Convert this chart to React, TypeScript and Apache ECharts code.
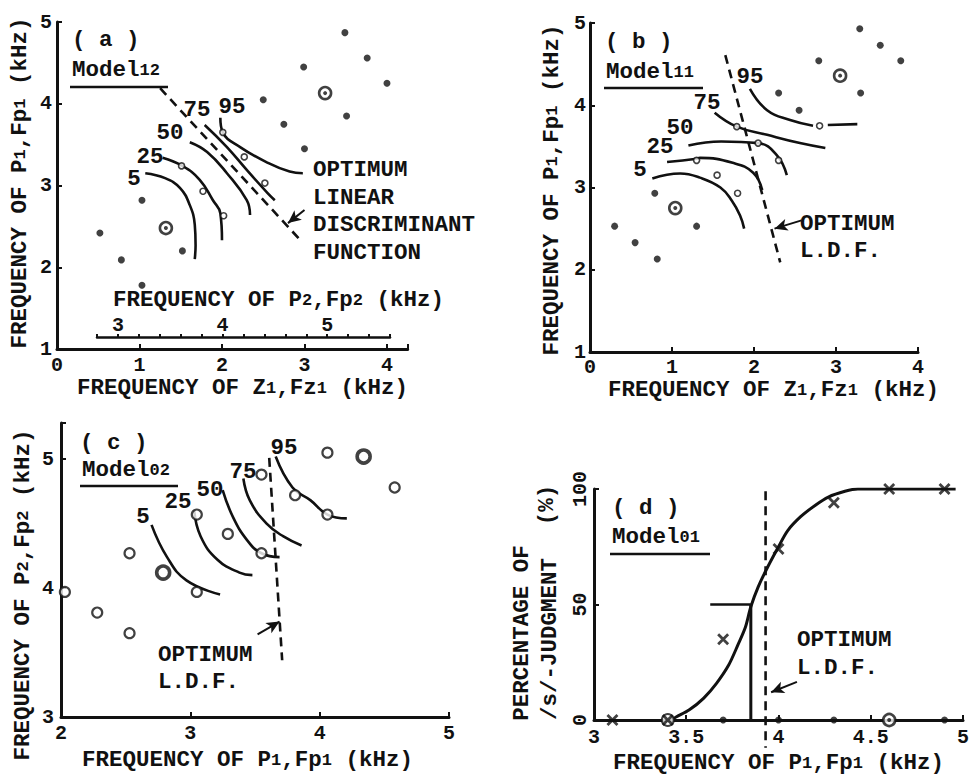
import React, { useEffect, useRef } from 'react';
import * as echarts from 'echarts';

const FONT = '"Liberation Mono", "DejaVu Sans Mono", monospace';
const INK = '#111';

// ---------- Panel (a) Model12 : Z1,Fz1 (x) vs P1,Fp1 (y) ----------
const aFilled = [[2.99, 4.45], [3.49, 4.87], [3.76, 4.56], [4.0, 4.25], [2.5, 4.05], [2.75, 3.75], [3.51, 3.85], [3.0, 3.45], [1.03, 2.82], [0.52, 2.42], [0.78, 2.09], [1.03, 1.78], [1.52, 2.2]];
const aDouble = [[3.25, 4.13], [1.32, 2.48]];
const aOpen = [[1.51, 3.24], [1.77, 2.93], [2.02, 2.63], [2.01, 3.65], [2.27, 3.35], [2.52, 3.03]];
const aCurve5 = [[1.07, 3.15], [1.31, 3.09], [1.49, 2.97], [1.61, 2.76], [1.67, 2.52], [1.68, 2.27], [1.67, 2.1]];
const aCurve25 = [[1.28, 3.34], [1.52, 3.24], [1.73, 3.07], [1.89, 2.82], [1.98, 2.66], [2.0, 2.33]];
const aCurve50 = [[1.61, 3.53], [1.82, 3.41], [2.06, 3.15], [2.3, 2.82], [2.34, 2.64]];
const aCurve75 = [[1.79, 3.74], [2.06, 3.47], [2.3, 3.19], [2.55, 2.91], [2.64, 2.82]];
const aCurve95 = [[1.98, 3.83], [2.01, 3.65], [2.22, 3.47], [2.55, 3.28], [2.82, 3.17], [2.98, 3.15]];
const aLdf = [[1.25, 4.19], [2.97, 2.31]];
const aArrow = [[3.0, 2.7], [2.8, 2.54]];

// ---------- Panel (b) Model11 ----------
const bFilled = [[0.3, 2.53], [0.55, 2.33], [0.82, 2.13], [1.3, 2.53], [0.79, 2.93], [3.29, 4.93], [3.54, 4.73], [3.79, 4.54], [2.79, 4.54], [3.3, 4.15], [2.3, 4.15], [2.55, 3.94]];
const bDouble = [[1.04, 2.75], [3.05, 4.36]];
const bOpen = [[2.8, 3.75], [1.79, 3.74], [2.05, 3.54], [2.3, 3.33], [1.55, 3.15], [1.3, 3.33], [1.8, 2.93]];
const bCurve5 = [[0.76, 3.11], [1.1, 3.17], [1.34, 3.12], [1.59, 3.0], [1.73, 2.84], [1.83, 2.66], [1.88, 2.5]];
const bCurve25 = [[0.94, 3.31], [1.3, 3.35], [1.34, 3.36], [1.74, 3.3], [1.99, 3.18], [2.1, 2.97]];
const bCurve50 = [[1.2, 3.51], [1.6, 3.56], [2.05, 3.54], [2.28, 3.39], [2.4, 3.15]];
const bCurve75 = [[1.52, 3.91], [1.79, 3.74], [2.16, 3.64], [2.56, 3.54], [2.87, 3.48]];
const bCurve95 = [[1.95, 4.2], [2.16, 3.94], [2.44, 3.82], [2.72, 3.75]];
const bCurve95Tail = [[2.9, 3.76], [3.26, 3.77]];
const bLdf = [[1.65, 4.61], [2.32, 2.09]];
const bArrow = [[2.58, 2.6], [2.25, 2.5]];

// ---------- Panel (c) Model02 : P1,Fp1 (x) vs P2,Fp2 (y) ----------
const cOpen = [[2.53, 4.27], [3.05, 3.97], [3.29, 4.42], [3.05, 4.57], [2.03, 3.97], [2.28, 3.81], [2.53, 3.65], [4.06, 5.05], [4.58, 4.78], [3.81, 4.72], [4.06, 4.57], [3.55, 4.27], [3.55, 4.88]];
const cBold = [[2.79, 4.12], [4.34, 5.02]];
const cCurve5 = [[2.7, 4.49], [2.82, 4.24], [2.97, 4.06], [3.23, 3.95]];
const cCurve25 = [[3.03, 4.6], [3.08, 4.4], [3.21, 4.22], [3.38, 4.12], [3.48, 4.1]];
const cCurve50 = [[3.25, 4.76], [3.33, 4.55], [3.44, 4.37], [3.55, 4.27], [3.69, 4.24]];
const cCurve75 = [[3.41, 4.85], [3.46, 4.68], [3.59, 4.5], [3.72, 4.4], [3.86, 4.33]];
const cCurve95 = [[3.66, 5.02], [3.79, 4.78], [3.93, 4.68], [4.06, 4.57], [4.21, 4.54]];
const cLdf = [[3.61, 5.01], [3.71, 3.44]];
const cArrow = [[3.52, 3.64], [3.69, 3.74]];

// ---------- Panel (d) Model01 : P1,Fp1 (x) vs % /s/ judgments ----------
const dCurve = [[3.42, 0], [3.445, 1.3], [3.515, 4.3], [3.595, 9.5], [3.665, 16], [3.73, 23.8], [3.78, 32.5], [3.82, 40], [3.85, 49], [3.89, 57.6], [3.94, 66], [4.0, 75], [4.05, 82], [4.12, 88], [4.2, 93], [4.27, 96.5], [4.36, 99], [4.43, 100], [4.96, 100]];
const dCrosses = [[3.1, 0], [3.4, 0], [3.7, 35], [4.0, 74], [4.3, 94], [4.6, 100], [4.9, 100]];
const dDots = [[3.7, 0], [4.0, 0], [4.3, 0], [4.9, 0]];
const dDouble = [[4.6, 0]];
const dOpen = [[3.4, 0]];
const dHalfV = [[3.85, 0], [3.85, 50]];
const dHalfH = [[3.63, 50], [3.85, 50]];
const dLdf = [[3.93, 99], [3.93, -12]];
const dArrow = [[4.1, 16.5], [3.96, 12]];

const intFmt = (v: number) => (Math.abs(v - Math.round(v)) < 1e-6 ? String(Math.round(v)) : '');
const tickLabel = { fontFamily: FONT, fontSize: 20, fontWeight: 'bold', color: INK };

function xAx(gridIndex: number, min: number, max: number, interval: number, extra: any = {}) {
  return {
    gridIndex, type: 'value', min, max, interval,
    axisLine: { onZero: false, lineStyle: { color: INK, width: 3 } },
    axisTick: { inside: true, length: 5, lineStyle: { color: INK, width: 2 } },
    splitLine: { show: false },
    axisLabel: { ...tickLabel, margin: 6, formatter: intFmt },
    ...extra,
  };
}
function yAx(gridIndex: number, min: number, max: number, interval: number, extra: any = {}) {
  return {
    gridIndex, type: 'value', min, max, interval,
    axisLine: { onZero: false, lineStyle: { color: INK, width: 3 } },
    axisTick: { inside: true, length: 5, lineStyle: { color: INK, width: 2 } },
    splitLine: { show: false },
    axisLabel: { ...tickLabel, margin: 5, formatter: intFmt },
    ...extra,
  };
}

const curve = (i: number, data: number[][], extra: any = {}) => ({
  type: 'line', xAxisIndex: i, yAxisIndex: i, data, symbol: 'none', smooth: 0.45, silent: true,
  lineStyle: { color: INK, width: 2.6 }, z: 3, ...extra,
});
const dashed = (i: number, data: number[][]) => ({
  type: 'line', xAxisIndex: i, yAxisIndex: i, data, symbol: 'none', silent: true, clip: false,
  lineStyle: { color: INK, width: 2.6, type: [9, 6] }, z: 3,
});
const arrow = (i: number, data: number[][]) => ({
  type: 'line', xAxisIndex: i, yAxisIndex: i, data: [], silent: true,
  markLine: {
    silent: true, symbol: ['none', 'arrow'], symbolSize: [9, 13], label: { show: false },
    lineStyle: { color: INK, width: 2, type: 'solid' }, animation: false,
    data: [[{ coord: data[0] }, { coord: data[1] }]],
  },
});
const dots = (i: number, data: number[][], size = 7) => ({
  type: 'scatter', xAxisIndex: i, yAxisIndex: i, data, symbol: 'circle', symbolSize: size, silent: true,
  itemStyle: { color: INK }, z: 5,
});
const rings = (i: number, data: number[][], size: number, bw: number) => ({
  type: 'scatter', xAxisIndex: i, yAxisIndex: i, data, symbol: 'circle', symbolSize: size, silent: true,
  itemStyle: { color: '#fff', borderColor: INK, borderWidth: bw }, z: 5,
});
const crosses = (i: number, data: number[][]) => ({
  type: 'scatter', xAxisIndex: i, yAxisIndex: i, data, symbol: 'path://M0 0L10 10M10 0L0 10', symbolSize: 10, silent: true,
  itemStyle: { color: 'none', borderColor: INK, borderWidth: 2.8 }, z: 6,
});

const sub = { s: { fontFamily: FONT, fontSize: 17, fontWeight: 'bold', lineHeight: 6, verticalAlign: 'bottom', fill: INK } };
const txt = (x: number, y: number, text: string, o: any = {}) => ({
  type: 'text', x, y, rotation: o.rot || 0, silent: true,
  style: {
    text, fontFamily: FONT, fontSize: o.size || 22.5, fontWeight: o.weight || 'bold', fill: INK,
    align: o.align || 'left', verticalAlign: 'middle', lineHeight: 18, rich: sub,
  },
});
const uline = (x1: number, x2: number, y: number) => ({
  type: 'line', silent: true, shape: { x1, y1: y, x2, y2: y }, style: { stroke: INK, lineWidth: 2.4 },
});

const R = Math.PI / 2;

const option: any = {
  animation: false,
  backgroundColor: '#fff',
  grid: [
    { left: 57, top: 22, width: 350.6, height: 327 },
    { left: 97, top: 337, width: 293, height: 1 },
    { left: 590, top: 23, width: 328, height: 329 },
    { left: 61, top: 423, width: 388, height: 294 },
    { left: 594, top: 489, width: 373, height: 231 },
  ],
  xAxis: [
    xAx(0, 0, 4.25, 1),
    xAx(1, 2.8, 5.6, 0.2, {
      position: 'top',
      axisLine: { onZero: false, lineStyle: { color: INK, width: 2.5 } },
      axisTick: { inside: false, length: 3, lineStyle: { color: INK, width: 2 } },
      axisLabel: { ...tickLabel, margin: 2, formatter: intFmt },
    }),
    xAx(2, 0, 4, 1, { axisLabel: { ...tickLabel, margin: 5, formatter: intFmt } }),
    xAx(3, 2, 5, 1),
    xAx(4, 3, 5, 0.5, { axisLabel: { ...tickLabel, margin: 7, formatter: (v: number) => String(v) } }),
  ],
  yAxis: [
    yAx(0, 1, 5, 1),
    { gridIndex: 1, type: 'value', min: 0, max: 1, show: false },
    yAx(2, 1, 5, 1, { axisLabel: { ...tickLabel, margin: 4, formatter: intFmt } }),
    yAx(3, 3, 5.28, 1, { axisLabel: { ...tickLabel, margin: 7, formatter: intFmt } }),
    yAx(4, 0, 100, 50, { axisLabel: { ...tickLabel, margin: 4, rotate: 90, formatter: (v: number) => String(v) } }),
  ],
  series: [
    // (a)
    curve(0, aCurve5), curve(0, aCurve25), curve(0, aCurve50), curve(0, aCurve75), curve(0, aCurve95),
    dashed(0, aLdf), arrow(0, aArrow),
    dots(0, aFilled), rings(0, aOpen, 6, 1.6), rings(0, aDouble, 12, 2.6), dots(0, aDouble, 4),
    // (b)
    curve(2, bCurve5), curve(2, bCurve25), curve(2, bCurve50), curve(2, bCurve75), curve(2, bCurve95), curve(2, bCurve95Tail, { smooth: false }),
    dashed(2, bLdf), arrow(2, bArrow),
    dots(2, bFilled), rings(2, bOpen, 6, 1.6), rings(2, bDouble, 12, 2.6), dots(2, bDouble, 4),
    // (c)
    curve(3, cCurve5), curve(3, cCurve25), curve(3, cCurve50), curve(3, cCurve75), curve(3, cCurve95),
    dashed(3, cLdf), arrow(3, cArrow),
    rings(3, cOpen, 10, 2.2), rings(3, cBold, 13, 3.6),
    // (d)
    curve(4, dCurve, { smooth: 0.3, lineStyle: { color: INK, width: 3 } }),
    curve(4, dHalfV, { smooth: false, lineStyle: { color: INK, width: 3 } }),
    curve(4, dHalfH, { smooth: false, lineStyle: { color: INK, width: 2.4 } }),
    dashed(4, dLdf), arrow(4, dArrow),
    dots(4, dDots, 7), rings(4, dOpen, 12, 2), rings(4, dDouble, 12, 2.6), dots(4, dDouble, 4),
    crosses(4, dCrosses),
  ],
  graphic: [
    // (a)
    txt(72, 40, '( a )'),
    txt(72, 70, 'Model{s|12}'),
    uline(70, 168, 87),
    txt(134, 179, '5', { align: 'center' }),
    txt(150, 157, '25', { align: 'center' }),
    txt(170, 133, '50', { align: 'center' }),
    txt(197, 110, '75', { align: 'center' }),
    txt(232, 107, '95', { align: 'center' }),
    txt(313, 170, 'OPTIMUM'),
    txt(313, 198, 'LINEAR'),
    txt(313, 225, 'DISCRIMINANT'),
    txt(313, 253, 'FUNCTION'),
    txt(113, 300, 'FREQUENCY OF P{s|2},Fp{s|2} (kHz)'),
    txt(77, 388, 'FREQUENCY OF Z{s|1},Fz{s|1} (kHz)'),
    txt(20, 183, 'FREQUENCY OF P{s|1},Fp{s|1} (kHz)', { align: 'center', rot: R }),
    // (b)
    txt(605, 42, '( b )'),
    txt(606, 72, 'Model{s|11}'),
    uline(604, 703, 88),
    txt(640, 170, '5', { align: 'center' }),
    txt(660, 147, '25', { align: 'center' }),
    txt(680, 128, '50', { align: 'center' }),
    txt(707, 103, '75', { align: 'center' }),
    txt(750, 77, '95', { align: 'center' }),
    txt(800, 224, 'OPTIMUM'),
    txt(800, 251, 'L.D.F.'),
    txt(608, 390, 'FREQUENCY OF Z{s|1},Fz{s|1} (kHz)'),
    txt(552, 190, 'FREQUENCY OF P{s|1},Fp{s|1} (kHz)', { align: 'center', rot: R }),
    // (c)
    txt(80, 443, '( c )'),
    txt(82, 470, 'Model{s|02}'),
    uline(80, 178, 486),
    txt(143, 517, '5', { align: 'center' }),
    txt(178, 502, '25', { align: 'center' }),
    txt(210, 490, '50', { align: 'center' }),
    txt(243, 472, '75', { align: 'center' }),
    txt(284, 448, '95', { align: 'center' }),
    txt(158, 655, 'OPTIMUM'),
    txt(158, 682, 'L.D.F.'),
    txt(82, 760, 'FREQUENCY OF P{s|1},Fp{s|1} (kHz)'),
    txt(23, 595, 'FREQUENCY OF P{s|2},Fp{s|2} (kHz)', { align: 'center', rot: R }),
    // (d)
    txt(612, 508, '( d )'),
    txt(612, 537, 'Model{s|01}'),
    uline(610, 710, 554),
    txt(797, 640, 'OPTIMUM'),
    txt(797, 668, 'L.D.F.'),
    txt(613, 763, 'FREQUENCY OF P{s|1},Fp{s|1} (kHz)'),
    txt(522, 633, 'PERCENTAGE OF', { align: 'center', rot: R }),
    txt(550, 639, '/s/-JUDGMENT', { align: 'center', rot: R }),
    txt(547, 505, '(%)', { align: 'center', rot: R }),
  ],
};

export default function App() {
  const ref = useRef<HTMLDivElement>(null);
  useEffect(() => {
    document.body.style.margin = '0';
    const chart = echarts.init(ref.current as HTMLDivElement, null, { renderer: 'svg', width: 972, height: 780 });
    chart.setOption(option);
    return () => chart.dispose();
  }, []);
  return <div ref={ref} style={{ position: 'absolute', left: 0, top: 0, width: 972, height: 780 }} />;
}
